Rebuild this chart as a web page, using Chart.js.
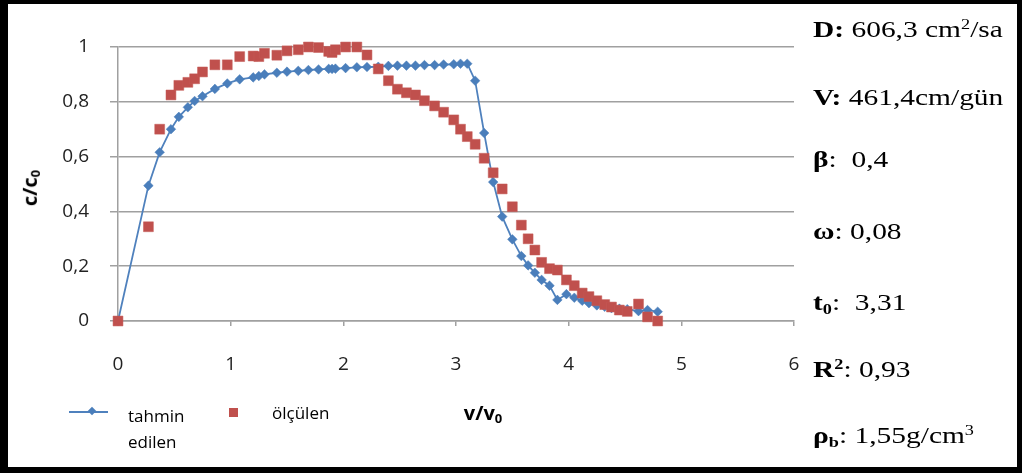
<!DOCTYPE html>
<html>
<head>
<meta charset="utf-8">
<script src="https://cdn.jsdelivr.net/npm/chart.js@4.4.0/dist/chart.umd.min.js"></script>
<style>
    html, body { margin: 0; padding: 0; background: #fff; }
    #wrap { position: relative; width: 1022px; height: 473px; overflow: hidden; }
    #chart { position: absolute; left: 0; top: 0; }
    #frame {
        position: absolute; left: 0; top: 0; width: 1022px; height: 473px;
        box-sizing: border-box; border-style: solid; border-color: #000;
        border-width: 4px 5px 6px 8px; pointer-events: none;
    }
    #notch { position: absolute; left: 108px; top: 467px; width: 113px; height: 6px; background: #fff; }
    .axis-title { position: absolute; font-family: "Open Sans", sans-serif; font-weight: bold; font-size: 20px; color: #000; white-space: nowrap; }
    .axis-title sub { font-size: 0.65em; vertical-align: -0.25em; }
    #ytitle { left: 30px; top: 188px; transform: translate(-50%, -50%) rotate(-90deg); }
    #xtitle { left: 483px; top: 413px; transform: translate(-50%, -50%); }
    .leg { position: absolute; font-family: "Open Sans", sans-serif; font-size: 17px; color: #000; line-height: 26px; }
    #legLine { position: absolute; left: 69px; top: 411px; width: 39px; height: 2px; background: #4f81bd; }
    #legDiamond { position: absolute; left: 89px; top: 408px; width: 6px; height: 6px; background: #4a7ebb; transform: rotate(45deg); }
    #legSquare { position: absolute; left: 229px; top: 408px; width: 9px; height: 9px; background: #c0504d; }
    .p {
        position: absolute; left: 813px; font-family: "Liberation Serif", "Times New Roman", serif;
        font-size: 23px; line-height: 23px; color: #000; white-space: nowrap;
        transform: scaleX(1.28); transform-origin: left center;
    }
    .p b { font-weight: bold; }
    .p sup { font-size: 0.62em; vertical-align: 0.55em; line-height: 0; }
    .p sub { font-size: 0.62em; vertical-align: -0.25em; line-height: 0; }
</style>
</head>
<body>
<div id="wrap">
    <canvas id="chart" width="1022" height="473"></canvas>
    <div id="ytitle" class="axis-title">c/c<sub>0</sub></div>
    <div id="xtitle" class="axis-title">v/v<sub>0</sub></div>

    <div id="legLine"></div>
    <div id="legDiamond"></div>
    <div class="leg" style="left:128px; top:403px;">tahmin<br>edilen</div>
    <div id="legSquare"></div>
    <div class="leg" style="left:272px; top:400px;">ölçülen</div>

    <div class="p" style="top:18px;"><b>D:</b> 606,3 cm<sup>2</sup>/sa</div>
    <div class="p" style="top:86px;"><b>V:</b> 461,4cm/gün</div>
    <div class="p" style="top:148px;"><b>β</b>:&nbsp; 0,4</div>
    <div class="p" style="top:220px;"><b>ω</b>: 0,08</div>
    <div class="p" style="top:291px;"><b>t<sub>0</sub></b>:&nbsp; 3,31</div>
    <div class="p" style="top:358px;"><b>R<sup>2</sup></b>: 0,93</div>
    <div class="p" style="top:424px;"><b>ρ<sub>b</sub></b>: 1,55g/cm<sup>3</sup></div>

    <div id="notch"></div>
    <div id="frame"></div>
</div>

<script>
// v/v0 values (shared by both series)
const vRatio = [0, 0.27, 0.37, 0.47, 0.54, 0.62, 0.68, 0.75, 0.86, 0.97,
    1.08, 1.2, 1.25, 1.3, 1.41, 1.5, 1.6, 1.69, 1.78, 1.87,
    1.9, 1.93, 2.02, 2.12, 2.21, 2.31, 2.4, 2.48, 2.56, 2.64,
    2.72, 2.81, 2.89, 2.98, 3.04, 3.1, 3.17, 3.25, 3.33, 3.41,
    3.5, 3.58, 3.64, 3.7, 3.76, 3.83, 3.9, 3.98, 4.05, 4.12,
    4.18, 4.25, 4.32, 4.38, 4.45, 4.52, 4.62, 4.7, 4.79];

// c/c0 predicted (tahmin edilen)
const tahmin = [0, 0.494, 0.616, 0.70, 0.745, 0.78, 0.803, 0.82, 0.847, 0.867,
    0.882, 0.889, 0.894, 0.90, 0.906, 0.91, 0.913, 0.916, 0.918, 0.92,
    0.92, 0.921, 0.923, 0.926, 0.927, 0.928, 0.931, 0.932, 0.932, 0.932,
    0.934, 0.934, 0.936, 0.937, 0.939, 0.939, 0.877, 0.686, 0.507, 0.381,
    0.298, 0.237, 0.203, 0.176, 0.15, 0.129, 0.077, 0.098, 0.085, 0.074,
    0.065, 0.057, 0.052, 0.047, 0.045, 0.043, 0.036, 0.04, 0.034];

// c/c0 measured (ölçülen)
const olculen = [0, 0.344, 0.70, 0.825, 0.86, 0.871, 0.884, 0.909, 0.935, 0.935,
    0.965, 0.967, 0.965, 0.977, 0.97, 0.986, 0.99, 1.0, 0.998, 0.984,
    0.98, 0.99, 1.0, 1.0, 0.971, 0.92, 0.877, 0.846, 0.833, 0.825,
    0.804, 0.785, 0.762, 0.734, 0.70, 0.673, 0.645, 0.594, 0.541, 0.482,
    0.417, 0.35, 0.30, 0.259, 0.214, 0.191, 0.186, 0.15, 0.129, 0.102,
    0.089, 0.074, 0.06, 0.051, 0.04, 0.035, 0.062, 0.015, 0];

const xTicks = [0, 1, 2, 3, 4, 5, 6];
const yTicks = [0, 0.2, 0.4, 0.6, 0.8, 1];

const toPoints = ys => vRatio.map((x, i) => ({ x: x, y: ys[i] }));
const comma = v => String(+v.toFixed(1)).replace('.', ',');

const ctx = document.getElementById("chart").getContext("2d");
new Chart(ctx, {
    type: 'scatter',
    data: {
        datasets: [
            {
                label: 'ölçülen',
                data: toPoints(olculen),
                showLine: false,
                pointStyle: 'rect',
                pointRadius: 7,
                backgroundColor: '#c0504d',
                borderColor: '#c55a57',
                borderWidth: 0.5,
                order: 0,
                clip: false
            },
            {
                label: 'tahmin edilen',
                data: toPoints(tahmin),
                showLine: true,
                tension: 0,
                borderColor: '#4f81bd',
                borderWidth: 1.8,
                pointStyle: 'rectRot',
                pointRadius: 4.8,
                pointBackgroundColor: '#4a7ebb',
                pointBorderColor: '#4a7ebb',
                pointBorderWidth: 0.5,
                order: 1,
                clip: false
            }
        ]
    },
    options: {
        responsive: false,
        animation: false,
        layout: { padding: { left: 0, top: 47, right: 228, bottom: 0 } },
        plugins: {
            legend: { display: false },
            tooltip: { enabled: false }
        },
        scales: {
            x: {
                type: 'linear',
                min: 0,
                max: 6,
                afterBuildTicks: s => { s.ticks = xTicks.map(v => ({ value: v })); },
                afterFit: s => { s.height = 152; },
                ticks: {
                    padding: 27,
                    color: '#222',
                    font: { family: 'Open Sans', size: 19 },
                    callback: v => comma(v)
                },
                grid: { drawOnChartArea: false, drawTicks: true, tickLength: 5, color: '#a0a0a0', lineWidth: 1.5 },
                border: { color: '#a0a0a0', width: 1.5 }
            },
            y: {
                min: 0,
                max: 1,
                afterBuildTicks: s => { s.ticks = yTicks.map(v => ({ value: v })); },
                afterFit: s => { s.width = 118; },
                ticks: {
                    padding: 21,
                    color: '#222',
                    font: { family: 'Open Sans', size: 19 },
                    callback: v => comma(v)
                },
                grid: { color: '#a0a0a0', lineWidth: 1.5, tickLength: 8 },
                border: { color: '#a0a0a0', width: 1.5 }
            }
        }
    }
});
</script>
</body>
</html>
